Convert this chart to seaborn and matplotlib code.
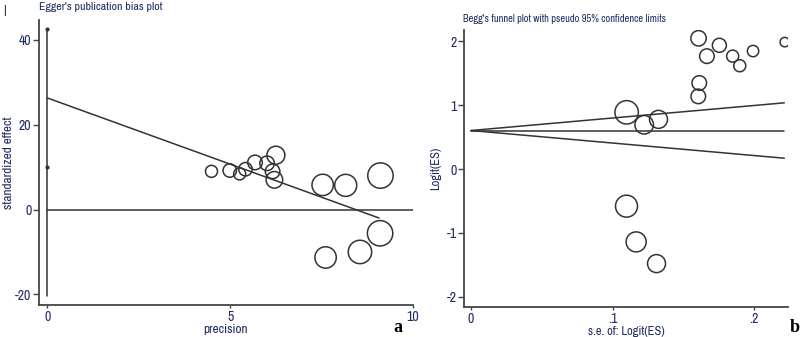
import matplotlib
matplotlib.use("Agg")
import matplotlib.pyplot as plt
from matplotlib import font_manager
import seaborn as sns
import numpy as np
import pandas as pd

# Egger's plot data (panel a)
egger_precision = [4.49, 4.99, 5.26, 5.42, 5.68, 6.01, 6.25, 6.16, 6.21, 7.53, 8.16, 9.11, 9.10, 8.55, 7.61]
egger_std_effect = [9.0, 9.2, 8.4, 9.5, 11.1, 10.9, 12.8, 9.0, 7.0, 5.8, 5.7, 8.0, -5.6, -10.0, -11.3]
egger_weight = [36, 45, 36, 45, 53, 53, 81, 53, 69, 114, 121, 161, 161, 137, 114]
egger_intercept = 26.3
egger_slope = -3.12
egger_fit_end = 9.07
egger_ci = [-20.3, 42.5]
egger_ci_mark = 10.1

# Begg's funnel data (panel b)
begg_se = [0.110, 0.1224, 0.1325, 0.1606, 0.1613, 0.1608, 0.1667, 0.1755, 0.1849, 0.1899,
           0.1993, 0.2217, 0.1099, 0.1167, 0.1311]
begg_logit = [0.89, 0.695, 0.78, 1.14, 1.35, 2.05, 1.77, 1.94, 1.77, 1.62,
              1.85, 1.99, -0.58, -1.14, -1.48]
begg_weight = [137, 86, 81, 53, 53, 59, 53, 49, 36, 36, 32, 22, 121, 100, 81]
begg_pooled = 0.605
begg_se_max = 0.2214

sns.set_theme(style="ticks")
plt.rcParams["axes.unicode_minus"] = False

# look for a narrow sans face, the original uses one
fonts = font_manager.fontManager.ttflist
narrow = [f for f in fonts if "Narrow" in f.name or "Condensed" in f.name]
dejavu_cond = [f for f in fonts if f.name == "DejaVu Sans" and "condensed" in str(f.stretch)]
scale = 1.0
if narrow:
    plt.rcParams["font.family"] = [narrow[0].name, "DejaVu Sans"]
elif dejavu_cond:
    plt.rcParams["font.family"] = ["DejaVu Sans"]
    plt.rcParams["font.stretch"] = "condensed"
    scale = 0.92
else:
    plt.rcParams["font.family"] = ["Liberation Sans", "DejaVu Sans"]
    scale = 0.82

navy = "#1f2b63"
ink = "#333333"

fig = plt.figure(figsize=(8, 3.37), dpi=100)
ax1 = fig.add_axes([0.04875, 0.095, 0.4675, 0.846])
ax2 = fig.add_axes([0.5804, 0.089, 0.4046, 0.822])

# ---- panel a: Egger ----
df_a = pd.DataFrame({"precision": egger_precision, "effect": egger_std_effect, "w": egger_weight})
sns.scatterplot(data=df_a, x="precision", y="effect", size="w", sizes=(75, 334),
                size_norm=(min(egger_weight), max(egger_weight)), legend=False,
                facecolor="none", edgecolor=ink, linewidth=1.1, ax=ax1)
xs = np.array([0, egger_fit_end])
sns.lineplot(x=xs, y=egger_intercept + egger_slope * xs, color=ink, lw=1.1, ax=ax1)
ax1.plot([0, 10], [0, 0], color=ink, lw=1.1)
ax1.plot([0, 0], egger_ci, color=ink, lw=1.1)
ax1.plot([0, 0], [egger_ci[1], egger_ci_mark], ls="none", marker="o", ms=2, color=ink)

ax1.set_xlim(-0.227, 10.0)
ax1.set_ylim(-22.5, 44.7)
ax1.set_xticks([0, 5, 10])
ax1.set_yticks([-20, 0, 20, 40])
ax1.set_xlabel("precision", color=navy, fontsize=9.5 * scale, labelpad=0)
ax1.set_ylabel("standardized effect", color=navy, fontsize=9.5 * scale, labelpad=0.5)
ax1.set_title("Egger's publication bias plot", color=navy, fontsize=8.5 * scale,
              loc="left", x=0.0, y=1.005)

# ---- panel b: Begg ----
df_b = pd.DataFrame({"se": begg_se, "logit": begg_logit, "w": begg_weight})
sns.scatterplot(data=df_b, x="se", y="logit", size="w", sizes=(46, 284),
                size_norm=(min(begg_weight), max(begg_weight)), legend=False,
                facecolor="none", edgecolor=ink, linewidth=1.1, ax=ax2)
se_line = np.array([0, begg_se_max])
ax2.plot(se_line, [begg_pooled, begg_pooled], color=ink, lw=1.1)
ax2.plot(se_line, begg_pooled + 1.96 * se_line, color=ink, lw=1.1)
ax2.plot(se_line, begg_pooled - 1.96 * se_line, color=ink, lw=1.1)

ax2.set_xlim(-0.0047, 0.224)
ax2.set_ylim(-2.16, 2.18)
ax2.set_xticks([0, 0.1, 0.2])
ax2.set_xticklabels(["0", ".1", ".2"])
ax2.set_yticks([-2, -1, 0, 1, 2])
ax2.set_xlabel("s.e. of: Logit(ES)", color=navy, fontsize=9 * scale, labelpad=0)
ax2.set_ylabel("Logit(ES)", color=navy, fontsize=9 * scale, labelpad=4)
ax2.set_title("Begg's funnel plot with pseudo 95% confidence limits", color=navy,
              fontsize=7.5 * scale * (0.86 if scale < 0.9 else 1.0), loc="left", x=-0.005, y=1.0)

for ax in (ax1, ax2):
    sns.despine(ax=ax)
    for side in ("left", "bottom"):
        ax.spines[side].set_color("#444444")
        ax.spines[side].set_linewidth(1.3)
    ax.tick_params(colors="#444444", labelcolor=navy, labelsize=10 * scale, width=1, pad=1)
    ax.tick_params(axis="y", length=4.5)
    ax.tick_params(axis="x", length=2.5)

fig.text(3 / 800, 1 - 11 / 337, "|", fontsize=9, color="#222222", va="center")
fig.text(398 / 800, 1 - 328 / 337, "a", fontsize=13, fontweight="bold",
         family="Liberation Serif", ha="center", va="center", color="black")
fig.text(795 / 800, 1 - 328 / 337, "b", fontsize=13, fontweight="bold",
         family="Liberation Serif", ha="center", va="center", color="black")

fig.savefig("out.png", dpi=100)
